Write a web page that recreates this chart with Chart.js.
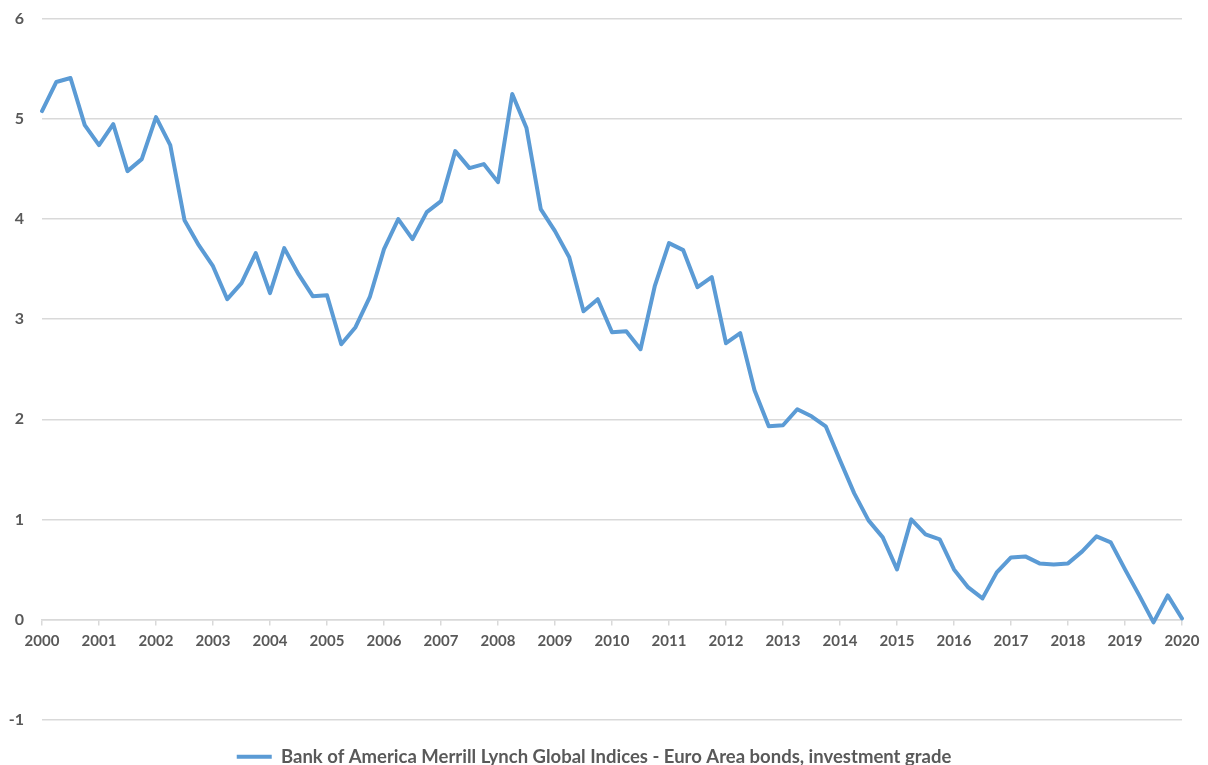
<!DOCTYPE html>
<html>
<head>
<meta charset="utf-8">
<script src="https://cdn.jsdelivr.net/npm/chart.js@4/dist/chart.umd.min.js"></script>
<style>
  html, body { margin: 0; padding: 0; background: #ffffff; }
  #wrap { width: 1208px; height: 765px; position: relative; }
</style>
</head>
<body>
<div id="wrap"><canvas id="c"></canvas></div>
<script>
// ---- data ----
const years = ['2000','2001','2002','2003','2004','2005','2006','2007','2008','2009',
               '2010','2011','2012','2013','2014','2015','2016','2017','2018','2019','2020'];
const quarterNames = ['Q1','Q2','Q3','Q4'];
const seriesName = 'Bank of America Merrill Lynch Global Indices - Euro Area bonds, investment grade';
const yieldValues = [
  5.08, 5.37, 5.41, 4.94,
  4.74, 4.95, 4.48, 4.60,
  5.02, 4.74, 3.99, 3.74,
  3.53, 3.20, 3.36, 3.66,
  3.26, 3.71, 3.45, 3.23,
  3.24, 2.75, 2.92, 3.22,
  3.70, 4.00, 3.80, 4.07,
  4.18, 4.68, 4.51, 4.55,
  4.37, 5.25, 4.91, 4.10,
  3.88, 3.62, 3.08, 3.20,
  2.87, 2.88, 2.70, 3.33,
  3.76, 3.69, 3.32, 3.42,
  2.76, 2.86, 2.29, 1.93,
  1.94, 2.10, 2.03, 1.93,
  1.59, 1.26, 0.99, 0.82,
  0.50, 1.00, 0.85, 0.80,
  0.50, 0.32, 0.21, 0.47,
  0.62, 0.63, 0.56, 0.55,
  0.56, 0.68, 0.83, 0.77,
  0.50, 0.24, -0.03, 0.24,
  0.01
];
const yMin = -1, yMax = 6, yStep = 1;

// category labels: one per quarter
const quarterLabels = [];
years.forEach((y, yi) => {
  quarterNames.forEach((q, qi) => {
    if (yi < years.length - 1 || qi === 0) quarterLabels.push(y + ' ' + q);
  });
});

const FONT = 'Lato, "Open Sans", "DejaVu Sans", sans-serif';
const TEXT = '#595959';
const GRID = '#d9d9d9';

new Chart(document.getElementById('c'), {
  type: 'line',
  data: {
    labels: quarterLabels,
    datasets: [{
      label: seriesName,
      data: yieldValues,
      borderColor: '#5b9bd5',
      backgroundColor: '#5b9bd5',
      borderWidth: 4,
      pointRadius: 0,
      pointHoverRadius: 0,
      tension: 0,
      borderJoinStyle: 'round',
      borderCapStyle: 'round',
      fill: false
    }]
  },
  options: {
    responsive: true,
    maintainAspectRatio: false,
    animation: false,
    layout: { padding: { left: 6, right: 26, top: 19, bottom: -11 } },
    plugins: {
      tooltip: { enabled: false },
      legend: {
        position: 'bottom',
        labels: {
          usePointStyle: true,
          pointStyle: 'line',
          pointStyleWidth: 35,
          padding: 28,
          color: TEXT,
          font: { family: FONT, size: 18.5, weight: 'bold' }
        }
      }
    },
    scales: {
      x: {
        type: 'category',
        position: { y: 0 },
        offset: false,
        grid: {
          drawOnChartArea: false,
          drawTicks: true,
          tickLength: 5,
          lineWidth: 1.5,
          tickColor: (ctx) => (ctx.index % 4 === 0 ? GRID : 'rgba(0,0,0,0)')
        },
        border: { display: true, color: GRID, width: 1.5 },
        ticks: {
          autoSkip: false,
          maxRotation: 0,
          minRotation: 0,
          padding: 8,
          color: TEXT,
          font: { family: FONT, size: 15, weight: 'bold' },
          callback: function (value, index) {
            return index % 4 === 0 ? quarterLabels[index].slice(0, 4) : '';
          }
        }
      },
      y: {
        min: yMin,
        max: yMax,
        afterFit: (scale) => { scale.width = 36; },
        grid: {
          color: GRID,
          lineWidth: 1.5,
          drawTicks: true,
          tickLength: 10,
          tickColor: 'rgba(0,0,0,0)'
        },
        border: { display: false },
        ticks: {
          stepSize: yStep,
          padding: 8,
          color: TEXT,
          font: { family: FONT, size: 16, weight: 'bold' }
        }
      }
    }
  }
});
</script>
</body>
</html>
